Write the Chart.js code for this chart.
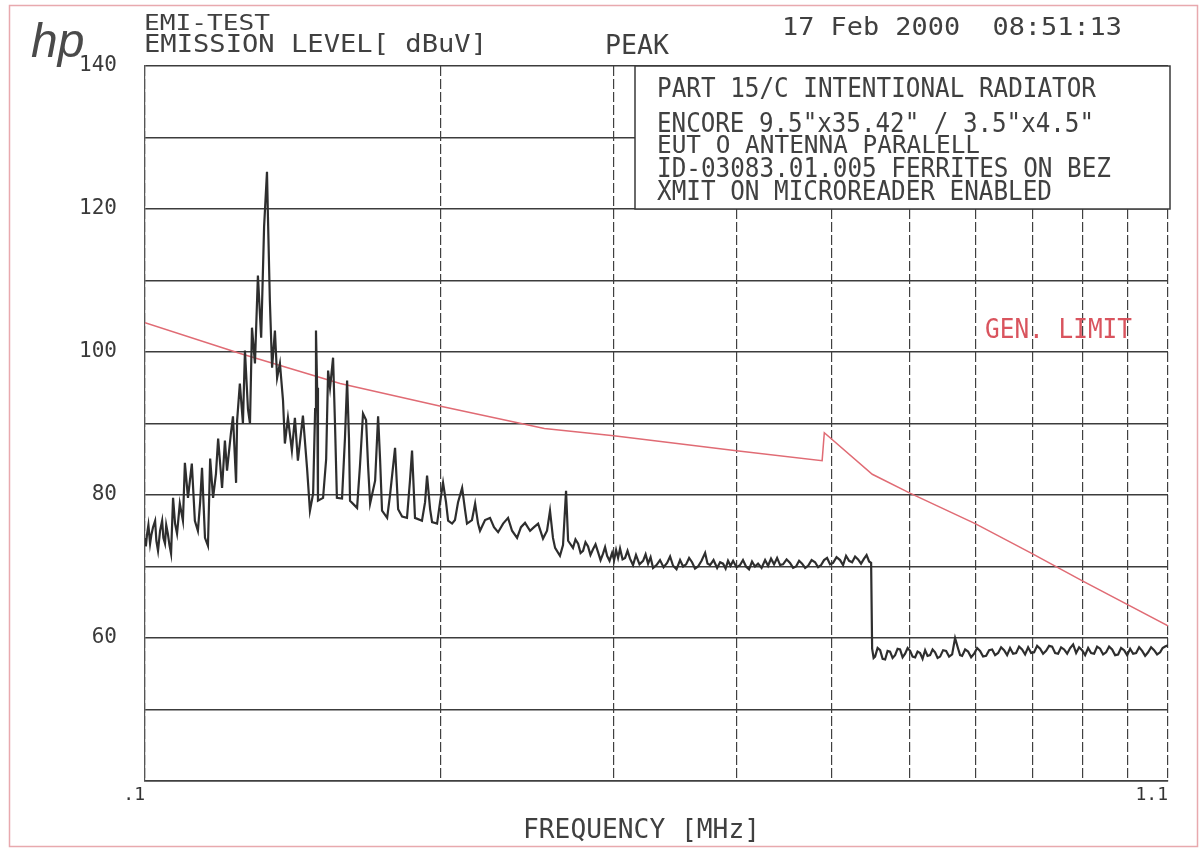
<!DOCTYPE html>
<html>
<head>
<meta charset="utf-8">
<script src="https://cdn.jsdelivr.net/npm/chart.js@4.4.1/dist/chart.umd.min.js"></script>
<style>
html,body{margin:0;padding:0;background:#fff;}
#wrap{width:1199px;height:848px;}
</style>
</head>
<body>
<div id="wrap"><canvas id="c" width="1199" height="848"></canvas></div>
<script>
// ---- data: frequency in MHz, level in dBuV ----
// band A: 0.1 - 0.27 MHz (harmonic region)
const freqA = [
0.1000,0.1002,0.1005,0.1008,0.1012,0.1015,0.1019,0.1024,0.1027,0.1031,
0.1036,0.1041,0.1044,0.1048,0.1051,0.1055,0.1059,0.1063,0.1068,0.1073,
0.1078,0.1085,0.1093,0.1098,0.1106,0.1111,0.1116,0.1124,0.1132,0.1138,
0.1143,0.1151,0.1159,0.1165,0.1173,0.1181,0.1187,0.1198,0.1206,0.1212,
0.1223,0.1229,0.1238,0.1241,0.1249,0.1258,0.1264,0.1273,0.1279,0.1285,
0.1294,0.1303,0.1313,0.1322,0.1331,0.1334,0.1340,0.1347,0.1356,0.1363,
0.1372,0.1382,0.1388,0.1398,0.1411,0.1421,0.1431,0.1448,0.1462,0.1472,
0.1483,0.1490,0.1493,0.1497,0.1500,0.1518,0.1529,0.1536,0.1543,0.1554,
0.1561,0.1568,0.1587,0.1598,0.1606,0.1613,0.1617,0.1644,0.1655,0.1667,
0.1679,0.1687,0.1695,0.1715,0.1727,0.1735,0.1743,0.1764,0.1776,0.1797,
0.1810,0.1827,0.1848,0.1861,0.1870,0.1883,0.1914,0.1928,0.1937,0.1951,
0.1960,0.1983,0.1997,0.2011,0.2025,0.2035,0.2054,0.2068,0.2083,0.2103,
0.2117,0.2127,0.2152,0.2168,0.2183,0.2193,0.2219,0.2245,0.2266,0.2288,
0.2315,0.2342,0.2364,0.2392,0.2414,0.2437,0.2466,0.2489,0.2513,0.2542,
0.2566,0.2584,0.2602,0.2615,0.2645,0.2664,0.2683,0.2696,0.2727
];
const levelA = [
74.0,72.8,74.6,75.8,73.2,74.4,75.5,76.4,73.6,72.2,
75.0,76.4,74.0,73.2,75.8,74.6,73.0,71.8,79.6,76.0,
74.6,78.8,76.4,84.5,79.6,82.0,84.4,76.4,75.0,79.0,
83.8,74.0,72.9,85.1,79.6,83.0,87.9,81.0,87.6,83.4,
88.6,91.0,81.7,90.4,95.6,90.0,100.2,92.0,90.0,103.4,
98.4,110.7,102.0,117.5,125.2,118.9,107.2,97.8,103.0,96.4,
98.4,93.2,87.2,90.8,86.2,90.8,84.8,91.1,83.8,77.8,
80.2,92.0,103.0,95.0,79.2,79.6,85.0,97.4,95.0,99.2,
90.0,79.6,79.5,88.0,96.0,88.0,79.2,78.2,84.0,91.4,
90.5,84.0,78.8,82.0,91.0,85.0,77.8,76.8,80.0,86.6,
78.0,77.0,76.8,82.0,86.2,76.8,76.4,79.0,82.7,78.0,
76.2,76.0,79.0,81.7,79.0,76.4,76.0,76.5,79.0,81.0,
78.0,76.0,76.5,78.8,76.0,75.0,76.5,76.8,75.5,74.8,
76.0,76.8,75.0,74.0,75.5,76.1,75.0,75.5,76.0,73.9,
75.0,77.8,74.0,72.6,71.5,73.0,80.6,73.6,72.6
];
// band B: 0.27 - 0.55 MHz (flat ~70 dB)
const freqB = [
0.2743,0.2760,0.2776,0.2792,0.2808,0.2825,0.2841,0.2858,0.2875,0.2892,
0.2909,0.2926,0.2940,0.2954,0.2971,0.2989,0.3003,0.3017,0.3031,0.3045,
0.3063,0.3081,0.3099,0.3117,0.3139,0.3161,0.3187,0.3214,0.3233,0.3252,
0.3271,0.3290,0.3317,0.3344,0.3372,0.3400,0.3424,0.3448,0.3476,0.3505,
0.3530,0.3555,0.3580,0.3605,0.3630,0.3656,0.3686,0.3717,0.3738,0.3760,
0.3791,0.3823,0.3850,0.3877,0.3900,0.3922,0.3945,0.3969,0.4001,0.4034,
0.4062,0.4091,0.4120,0.4149,0.4178,0.4208,0.4243,0.4278,0.4308,0.4338,
0.4369,0.4400,0.4431,0.4462,0.4499,0.4536,0.4568,0.4600,0.4633,0.4666,
0.4699,0.4732,0.4771,0.4810,0.4844,0.4878,0.4912,0.4947,0.4982,0.5017,
0.5058,0.5100,0.5136,0.5172,0.5209,0.5246,0.5283,0.5320,0.5357,0.5395,
0.5427,0.5459,0.5485
];
const levelB = [
73.8,73.2,71.9,72.2,73.4,72.8,71.6,72.4,73.1,72.0,
70.9,71.8,72.7,71.5,70.8,71.9,70.9,72.3,71.2,72.5,
71.0,71.2,72.2,71.1,70.2,71.6,70.3,70.8,71.7,70.4,
71.3,69.8,70.2,70.9,69.9,70.5,71.4,70.1,69.6,70.9,
70.0,70.3,71.2,70.6,69.7,70.0,70.8,71.9,70.4,70.2,
70.9,69.8,70.6,70.4,69.7,70.8,70.1,70.8,69.9,70.2,
70.9,70.0,69.6,70.7,70.0,70.4,69.8,70.9,70.1,71.1,
70.3,71.2,70.2,70.3,71.0,70.5,69.8,70.0,70.8,70.4,
69.8,70.1,70.9,70.6,69.9,70.2,70.9,71.2,70.3,70.5,
71.3,70.9,70.2,71.5,70.8,70.6,71.4,71.0,70.4,71.1,
71.6,70.7,70.5
];
// band C: 0.55 - 1.1 MHz (flat ~58 dB)
const freqC = [
0.5498,0.5517,0.5536,0.5569,0.5602,0.5635,0.5668,0.5701,0.5734,0.5768,
0.5802,0.5836,0.5870,0.5905,0.5940,0.5975,0.6010,0.6045,0.6081,0.6116,
0.6152,0.6188,0.6225,0.6261,0.6298,0.6335,0.6372,0.6410,0.6448,0.6493,
0.6539,0.6585,0.6632,0.6678,0.6726,0.6757,0.6789,0.6837,0.6885,0.6934,
0.6983,0.7032,0.7081,0.7131,0.7182,0.7233,0.7284,0.7335,0.7387,0.7439,
0.7491,0.7544,0.7597,0.7651,0.7705,0.7759,0.7814,0.7869,0.7925,0.7981,
0.8037,0.8094,0.8151,0.8208,0.8266,0.8325,0.8384,0.8443,0.8502,0.8562,
0.8623,0.8684,0.8745,0.8807,0.8869,0.8931,0.8994,0.9058,0.9122,0.9186,
0.9251,0.9316,0.9382,0.9448,0.9515,0.9582,0.9650,0.9718,0.9786,0.9855,
0.9925,0.9995,1.0066,1.0137,1.0208,1.0280,1.0353,1.0426,1.0499,1.0573,
1.0648,1.0723,1.0799,1.0862,1.0926,1.1000
];
const levelC = [
58.5,57.2,57.4,58.6,58.3,57.1,57.0,58.2,58.1,57.2,
57.6,58.5,58.4,57.3,57.8,58.6,58.2,57.4,57.3,58.1,
57.9,57.1,58.3,57.5,57.6,58.4,58.0,57.2,57.4,58.3,
58.2,57.4,57.7,60.0,58.5,57.6,57.5,58.4,58.1,57.3,
57.8,58.6,58.2,57.4,57.5,58.3,58.4,57.6,57.9,58.7,
58.3,57.6,58.6,57.8,57.9,58.8,58.4,57.7,58.7,57.9,
58.0,58.9,58.5,57.8,58.2,58.9,58.8,57.9,57.8,58.7,
58.4,57.8,58.6,59.1,57.9,58.7,58.3,57.6,58.6,57.9,
57.8,58.8,58.5,57.7,58.0,58.8,58.4,57.6,57.7,58.6,
58.3,57.6,58.5,57.8,57.9,58.7,58.2,57.5,58.0,58.7,
58.3,57.7,58.0,58.6,58.8,59.0
];
// general limit line
const limitFreq  = [0.1, 0.125, 0.158, 0.2, 0.255, 0.3, 0.4, 0.489, 0.4915, 0.55, 0.6, 0.7, 0.8, 0.9, 1.1];
const limitLevel = [104.1, 99.8, 95.6, 92.4, 89.3, 88.3, 86.2, 84.8, 88.7, 82.9, 80.3, 76.0, 71.8, 68.0, 61.7];
// ticks
const xTickValues = [0.1,0.2,0.3,0.4,0.5,0.6,0.7,0.8,0.9,1.0,1.1];
const xTickLabels = ['.1','','','','','','','','','','1.1'];
const yLabeledTicks = [60,80,100,120,140];

const legendLines = [
  'PART 15/C INTENTIONAL RADIATOR',
  'ENCORE 9.5"x35.42" / 3.5"x4.5"',
  'EUT O ANTENNA PARALELL',
  'ID-03083.01.005 FERRITES ON BEZ',
  'XMIT ON MICROREADER ENABLED'
];

const MONO = '"DejaVu Sans Mono", "Liberation Mono", monospace';

function fontDiffers(name){
  const c = document.createElement('canvas').getContext('2d');
  c.font = '40px monospace';
  const w1 = c.measureText('0123456789').width;
  c.font = '40px "' + name + '", monospace';
  const w2 = c.measureText('0123456789').width;
  return Math.abs(w1 - w2) > 0.5;
}
const hasNarrow = fontDiffers('Liberation Sans Narrow');
const yTickFont = hasNarrow ? {family:'"Liberation Sans Narrow"', size:26} : {family:MONO, size:21};

function condensedText(ctx, s, x, base, w, cap, color){
  const size = cap / 0.729;
  ctx.save();
  ctx.font = size.toFixed(1) + 'px ' + MONO;
  const m = ctx.measureText(s).width;
  ctx.translate(x, base);
  ctx.scale(w / m, 1);
  ctx.fillStyle = color;
  ctx.textAlign = 'left';
  ctx.textBaseline = 'alphabetic';
  ctx.fillText(s, 0, 0);
  ctx.restore();
}

const INK = '#404040';
const decor = {
  id: 'decor',
  beforeDraw(chart){
    const ctx = chart.ctx;
    ctx.save();
    ctx.fillStyle = '#ffffff';
    ctx.fillRect(0,0,chart.width,chart.height);
    ctx.restore();
  },
  afterDraw(chart){
    const ctx = chart.ctx;
    const a = chart.chartArea;
    ctx.save();
    ctx.strokeStyle = '#e8a9ae';
    ctx.lineWidth = 1.5;
    ctx.strokeRect(9.5, 5.5, 1188, 841);
    ctx.fillStyle = '#4a4a4a';
    ctx.font = 'italic 48px "Liberation Sans", Arial, sans-serif';
    ctx.textBaseline = 'alphabetic';
    ctx.fillText('hp', 31, 57);
    condensedText(ctx, 'EMI-TEST', 144, 30, 126, 16, INK);
    condensedText(ctx, 'EMISSION LEVEL[ dBuV]', 144, 52, 343, 18, INK);
    condensedText(ctx, 'PEAK', 605, 54, 64, 19, INK);
    condensedText(ctx, '17 Feb 2000  08:51:13', 782, 35, 340, 18, INK);
    const bx = 635, by = a.top, bw = a.right + 2 - 635, bh = 209 - a.top;
    ctx.fillStyle = '#ffffff';
    ctx.fillRect(bx, by, bw, bh);
    ctx.strokeStyle = '#3a3a3a';
    ctx.lineWidth = 1.5;
    ctx.strokeRect(bx, by, bw, bh);
    condensedText(ctx, legendLines[0], 657, 97, 439, 20, INK);
    condensedText(ctx, legendLines[1], 657, 132, 437, 20, INK);
    condensedText(ctx, legendLines[2], 657, 153, 323, 18, INK);
    condensedText(ctx, legendLines[3], 657, 177, 454, 19, INK);
    condensedText(ctx, legendLines[4], 657, 200, 395, 19, INK);
    condensedText(ctx, 'GEN. LIMIT', 985, 338, 147, 19, '#d9545e');
    condensedText(ctx, 'FREQUENCY [MHz]', 523, 838, 237, 20, INK);
    ctx.restore();
  }
};

const traceFreq = freqA.concat(freqB, freqC);
const traceLevel = levelA.concat(levelB, levelC);
const tracePts = traceFreq.map((f,i)=>({x:f, y:traceLevel[i]}));
const limitPts = limitFreq.map((f,i)=>({x:f, y:limitLevel[i]}));

new Chart(document.getElementById('c'), {
  type: 'line',
  data: {
    datasets: [
      { label:'PEAK', data: tracePts, borderColor:'#2e2e2e', borderWidth:2.2, pointRadius:0, tension:0, fill:false },
      { label:'GEN. LIMIT', data: limitPts, borderColor:'#e06b74', borderWidth:1.5, pointRadius:0, tension:0, fill:false }
    ]
  },
  options: {
    responsive:false,
    animation:false,
    devicePixelRatio:1,
    layout:{ padding:{ left:0, top:66, right:31, bottom:0 } },
    plugins:{ legend:{display:false}, tooltip:{enabled:false}, title:{display:false} },
    scales:{
      x:{
        type:'logarithmic',
        min:0.1, max:1.1,
        afterBuildTicks:(s)=>{ s.ticks = xTickValues.map(v=>({value:v})); },
        afterFit:(s)=>{ s.height = 67; },
        ticks:{
          autoSkip:false, maxRotation:0, minRotation:0, align:'end', padding:4,
          color:'#333', font:{family:MONO, size:18},
          callback:(v,i)=> xTickLabels[i] ?? ''
        },
        grid:{ color:'#404040', lineWidth:1.2, drawTicks:false },
        border:{ display:true, color:'#404040', width:1.5, dash:[10,3] }
      },
      y:{
        type:'linear',
        min:40, max:140,
        afterFit:(s)=>{ s.width = 145; },
        ticks:{
          stepSize:10, padding:28, color:'#3a3a3a',
          font:yTickFont,
          callback:(v)=> yLabeledTicks.includes(v) ? String(v) : ''
        },
        grid:{ color:'#3c3c3c', lineWidth:1.6, drawTicks:false },
        border:{ display:true, color:'#555', width:1.2 }
      }
    }
  },
  plugins:[decor]
});
</script>
</body>
</html>
